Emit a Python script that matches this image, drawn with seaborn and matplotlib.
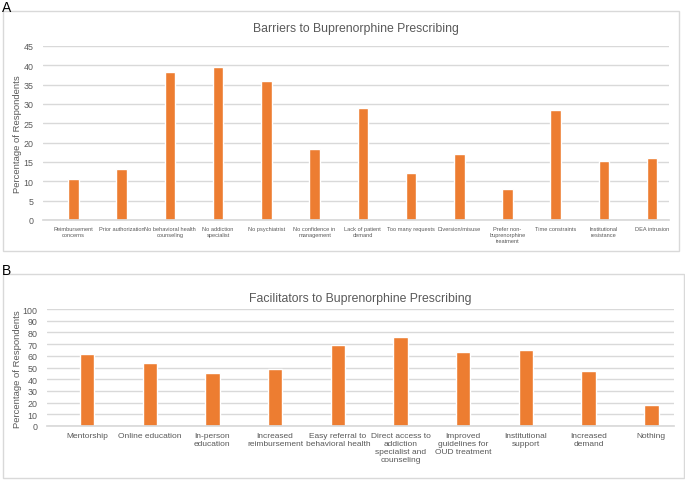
import matplotlib
matplotlib.use("Agg")
import matplotlib.pyplot as plt
import seaborn as sns
import pandas as pd
from matplotlib.patches import Rectangle

barrier_labels = ["Reimbursement\nconcerns", "Prior authorization", "No behavioral health\ncounseling",
                  "No addiction\nspecialist", "No psychiatrist", "No confidence in\nmanagement",
                  "Lack of patient\ndemand", "Too many requests", "Diversion/misuse",
                  "Prefer non-\nbuprenorphine\ntreatment", "Time constraints", "Institutional\nresistance",
                  "DEA intrusion"]
barrier_values = [10.7, 13.3, 38.2, 39.5, 36.0, 18.4, 29.0, 12.2, 17.1, 8.1, 28.4, 15.3, 16.0]

facil_labels = ["Mentorship", "Online education", "In-person\neducation", "Increased\nreimbursement",
                "Easy referral to\nbehavioral health", "Direct access to\naddiction\nspecialist and\ncounseling",
                "Improved\nguidelines for\nOUD treatment", "Institutional\nsupport", "Increased\ndemand", "Nothing"]
facil_values = [61.5, 54.0, 45.0, 49.0, 69.5, 76.0, 63.0, 65.0, 47.0, 18.0]

sns.set_theme(style="white")
plt.rcParams['font.family'] = ['Liberation Sans', 'DejaVu Sans']

W, H = 685, 481
fig = plt.figure(figsize=(W/100, H/100), dpi=100)

def fx(px): return px / W
def fy(py): return 1 - py / H

orange = "#ED7D31"
grid = "#D9D9D9"
txt = "#595959"

for (x0, y0, x1, y1) in [(3, 12, 679, 252), (3, 275, 684, 479)]:
    fig.patches.append(Rectangle((fx(x0), fy(y1)), fx(x1 - x0), fy(y0) - fy(y1), transform=fig.transFigure,
                                 fill=False, edgecolor=grid, linewidth=1))
fig.text(fx(2), fy(1), "A", fontsize=10, va="top", ha="left", color="black")
fig.text(fx(2), fy(264), "B", fontsize=10, va="top", ha="left", color="black")

def setup(ax, ymax, step, xlim, title, tpad, ylab_y):
    ax.set_ylim(0, ymax)
    ax.set_xlim(*xlim)
    ax.set_yticks(range(0, ymax + 1, step))
    ax.yaxis.grid(True, color=grid, linewidth=1)
    ax.set_axisbelow(True)
    for s in ["top", "right", "left"]:
        ax.spines[s].set_visible(False)
    ax.spines["bottom"].set_color(grid)
    ax.tick_params(axis="y", labelsize=6.4, colors=txt, length=0, pad=7)
    ax.set_xlabel("")
    ax.set_ylabel("Percentage of Respondents", fontsize=6.8, color=txt)
    ax.yaxis.set_label_coords(fx(18), fy(ylab_y), transform=fig.transFigure)
    ax.yaxis.label.set_va("center")
    ax.set_title(title, fontsize=8.8, color=txt, pad=tpad)

axA = fig.add_axes([fx(43), fy(221), fx(669 - 43), fy(47) - fy(221)])
dfA = pd.DataFrame({"cat": barrier_labels, "val": barrier_values})
sns.barplot(data=dfA, x="cat", y="val", color=orange, width=0.22, ax=axA, saturation=1)
axA.tick_params(axis="x", labelsize=4.1, colors=txt, length=0, pad=4)
for lab in axA.get_xticklabels():
    lab.set_linespacing(1.3)
setup(axA, 45, 5, (-0.633, 12.35), "Barriers to Buprenorphine Prescribing", 11, 134.5)

axB = fig.add_axes([fx(47), fy(427), fx(674 - 47), fy(310) - fy(427)])
dfB = pd.DataFrame({"cat": facil_labels, "val": facil_values})
sns.barplot(data=dfB, x="cat", y="val", color=orange, width=0.23, ax=axB, saturation=1)
axB.tick_params(axis="x", labelsize=6.0, colors=txt, length=0, pad=4)
setup(axB, 100, 10, (-0.638, 9.36), "Facilitators to Buprenorphine Prescribing", 6, 369.5)

fig.savefig("out.png", dpi=100)
